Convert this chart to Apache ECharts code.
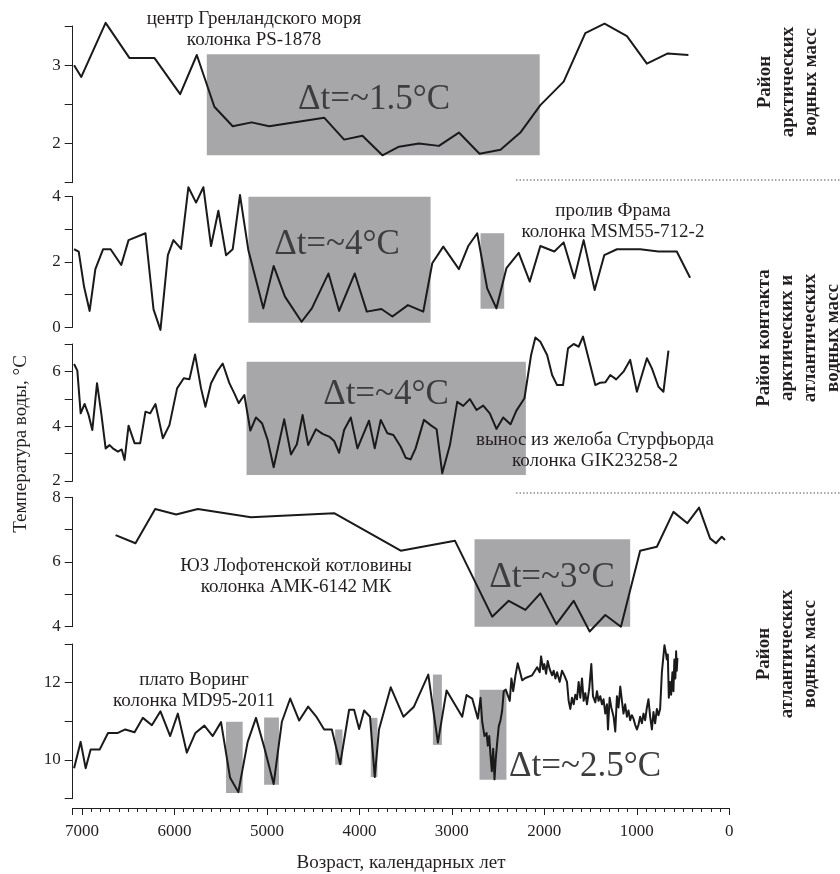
<!DOCTYPE html>
<html><head><meta charset="utf-8">
<script src="https://cdn.jsdelivr.net/npm/echarts@6/dist/echarts.min.js"></script>
<style>html,body{margin:0;padding:0;background:#fff}#c{width:840px;height:874px}</style>
</head><body><div id="c"></div>
<script>
// ---------- DATA ----------
// PS-1878 (центр Гренландского моря)
const ps1878Age  = [7085,7007,6744,6485,6215,5938,5758,5568,5370,5165,4975,4381,4165,3967,3751,3572,3356,3140,2924,2701,2474,2259,2043,1791,1557,1349,1107,891,665,442];
const ps1878Temp = [3.0,2.85,3.54,3.09,3.09,2.63,3.13,2.47,2.22,2.27,2.22,2.33,2.05,2.10,1.85,1.96,2.0,1.97,2.14,1.87,1.92,2.14,2.49,2.79,3.41,3.53,3.37,3.02,3.15,3.13];
const ps1878Boxes = [[5650,2050,1.85,3.14]]; // [ageFrom, ageTo, tMin, tMax]

// MSM55-712-2 (пролив Фрама)
const msmAge  = [7085,7035,6977,6917,6855,6772,6690,6575,6496,6313,6226,6151,6071,6011,5928,5849,5766,5687,5604,5525,5442,5370,5291,5201,5039,4927,4805,4625,4514,4334,4219,4050,3920,3762,3643,3475,3309,3212,3093,2924,2823,2726,2618,2518,2410,2277,2158,2043,1892,1791,1676,1575,1456,1352,1215,964,766,568,424];
const msmTemp = [2.39,2.32,1.24,0.5,1.78,2.39,2.39,1.91,2.67,2.88,0.55,-0.08,2.21,2.67,2.40,4.29,3.82,4.29,2.49,3.57,2.21,2.39,4.05,2.37,0.58,1.88,0.94,0.17,0.58,1.65,0.5,1.65,0.48,0.56,0.33,0.68,0.48,1.96,2.47,1.78,2.49,2.88,1.19,0.58,1.81,2.28,1.40,2.49,2.32,2.60,1.50,2.67,1.14,2.21,2.39,2.39,2.32,2.32,1.52];
const msmBoxes = [[5200,3230,0.14,4.08],[2690,2434,0.57,2.88]];

// GIK23258-2 (вынос из желоба Стурфьорда)
const gikAge  = [7085,7050,7014,6971,6928,6888,6837,6791,6744,6701,6658,6611,6570,6539,6496,6431,6370,6313,6262,6205,6125,6054,5971,5899,5838,5777,5712,5665,5604,5539,5478,5406,5352,5305,5244,5179,5118,5053,4992,4927,4813,4740,4676,4614,4554,4470,4398,4327,4273,4219,4165,4093,4021,3896,3834,3769,3697,3632,3553,3500,3446,3392,3302,3230,3165,3104,3021,2942,2877,2806,2733,2661,2590,2518,2445,2366,2302,2215,2143,2097,2043,1970,1916,1862,1798,1744,1683,1629,1582,1449,1395,1341,1287,1223,1144,1072,999,891,837,766,712,658];
const gikTemp = [6.27,6.03,4.47,4.81,4.41,3.86,5.57,4.47,3.19,3.31,3.17,3.07,3.15,2.77,4.02,3.38,3.38,4.53,4.47,4.81,3.56,4.04,5.38,5.75,5.71,6.62,5.38,4.71,5.57,5.99,6.29,5.57,5.20,4.84,5.14,3.84,4.32,4.11,3.50,2.50,4.25,2.97,3.34,4.41,3.31,3.89,3.72,3.62,3.46,3.03,3.86,4.32,3.19,4.20,3.19,4.23,3.74,3.68,3.25,2.85,2.79,3.19,4.23,4.04,3.89,2.28,3.31,4.89,4.74,4.99,4.59,4.75,4.47,3.90,4.32,4.07,4.57,5.02,6.60,7.24,7.08,6.60,5.87,5.50,5.50,6.84,7.0,6.90,7.27,5.50,5.59,5.60,5.87,5.71,5.99,6.42,5.26,6.48,6.11,5.44,5.26,6.76];
const gikBoxes = [[5220,2200,2.22,6.35]];

// АМК-6142 МК (ЮЗ Лофотенской котловины)
const amkAge  = [6636,6421,6208,5981,5747,5172,4273,3553,2967,2564,2385,2205,2043,1870,1683,1510,1341,1172,964,783,604,453,327,208,144,82,46];
const amkTemp = [6.83,6.58,7.64,7.47,7.64,7.38,7.51,6.35,6.66,4.31,4.80,4.52,5.03,4.08,4.80,3.85,4.36,4.00,6.35,6.47,7.55,7.20,7.68,6.73,6.58,6.78,6.68];
const amkBoxes = [[2755,1072,3.81,6.70]];

// MD95-2011 (плато Воринг)
const mdAge  = [7085,7014,6960,6906,6809,6718,6611,6532,6431,6341,6244,6151,6046,5963,5866,5773,5676,5586,5496,5399,5309,5208,5118,5029,4927,4838,4748,4651,4554,4460,4381,4298,4208,4111,4057,4003,3949,3885,3834,3788,3661,3524,3410,3255,3151,3057,2888,2841,2780,2719,
  2690,2672,2647,2625,2611,2596,2582,2568,2553,2539,2525,2510,2493,2474,2456,2439,2417,2396,2374,2356,2337,2312,2288,2266,2240,2205,2132,2078,2050,2035,2014,2000,1981,1964,1942,1916,1899,1880,1862,1834,1809,1784,1755,1737,1719,1701,1683,1665,1647,1629,1611,1593,1575,1557,1539,1514,1492,1474,1449,1431,1414,1395,1377,1360,1341,1323,1312,1294,1276,1251,1233,1215,1198,1179,1161,1144,1126,1107,1090,1072,1054,1036,1018,999,982,964,945,928,910,891,874,856,837,820,802,783,766,748,729,712,701,686,676,665,654,640,629,615,604,594,583,575,568,561];
const mdTemp = [9.79,10.47,9.79,10.27,10.27,10.70,10.70,10.79,10.72,11.09,10.90,11.26,10.62,11.20,10.19,10.70,10.89,10.62,10.98,9.55,9.17,10.47,11.09,10.33,9.38,10.99,11.59,11.02,11.38,11.10,10.79,10.79,9.89,11.30,11.30,10.80,11.28,11.12,9.56,10.79,11.88,11.12,11.38,12.21,10.45,11.80,11.12,11.68,11.59,11.07,
  11.61,10.99,10.62,10.70,10.37,10.62,10.12,9.71,10.29,9.50,10.04,10.45,10.87,11.03,11.28,11.78,11.82,11.82,11.53,12.11,11.78,12.19,12.50,12.31,12.06,12.12,12.19,12.40,12.27,12.68,12.35,12.48,12.23,12.56,12.35,12.19,12.31,12.11,12.27,12.02,12.31,12.19,12.02,11.53,11.32,11.61,11.44,11.69,11.57,12.02,11.61,12.11,11.53,11.73,11.44,11.86,12.48,11.65,11.49,11.78,11.53,11.65,11.44,11.57,11.20,11.44,10.79,11.61,11.36,11.12,10.74,11.65,11.36,11.90,11.53,11.20,11.44,11.12,11.28,11.03,11.16,11.07,10.91,10.79,10.91,11.12,10.95,11.20,11.03,11.36,11.57,11.12,10.79,11.24,10.95,11.32,11.16,11.32,12.27,12.31,12.97,12.77,12.60,12.73,11.61,12.02,11.69,12.27,11.78,12.60,12.11,12.81,12.31,12.64];
const mdBoxes = [[5442,5262,9.15,10.99],[5030,4870,9.36,11.10],[4262,4183,9.88,10.79],[3877,3805,9.56,11.09],[3205,3108,10.39,12.21],[2701,2410,9.49,11.82]];

// Axis ranges and ticks
const yRanges = [[1.5,3.5,0.5,1],[0,4,1,2],[2,7,1,2],[4,8,1,2],[9,13,1,2]]; // min,max,interval,labelEvery
const ageMin = 0, ageMax = 7100, ageInterval = 1000;

// Texts
const siteLabels = ['центр Гренландского моря\nколонка PS-1878','пролив Фрама\nколонка MSM55-712-2','вынос из желоба Стурфьорда\nколонка GIK23258-2','ЮЗ Лофотенской котловины\nколонка АМК-6142 МК','плато Воринг\nколонка MD95-2011'];
const deltaLabels = ['Δt=~1.5°C','Δt=~4°C','Δt=~4°C','Δt=~3°C','Δt=~2.5°C'];
const regionLabels = ['Район\nарктических\nводных масс','Район контакта\nарктических и\nатлантических\nводных масс','Район\nатлантических\nводных масс'];
const yName = 'Температура воды, °C';
const xName = 'Возраст, календарных лет';

// ---------- CHART ----------
const FONT = '"Liberation Serif", "Times New Roman", serif';
const INK = '#231f20';
const BOX = '#a7a7aa';
const panelAges = [ps1878Age, msmAge, gikAge, amkAge, mdAge];
const panelTemps = [ps1878Temp, msmTemp, gikTemp, amkTemp, mdTemp];
const panelBoxes = [ps1878Boxes, msmBoxes, gikBoxes, amkBoxes, mdBoxes];
const gridPx = [[26,182.7],[196.7,327.3],[344,481],[497.3,626.7],[644,806.7]];
const L = 72.7, R = 729.3;

const grids = [], xAxes = [], yAxes = [], series = [];
gridPx.forEach((g, i) => {
  grids.push({left: L, width: R - L, top: g[0], height: g[1] - g[0]});
  const last = i === gridPx.length - 1;
  xAxes.push({
    gridIndex: i, type: 'value', min: ageMin, max: ageMax, interval: ageInterval, inverse: true,
    show: last, offset: 9.3, position: 'bottom',
    axisLine: {show: true, onZero: false, lineStyle: {color: INK, width: 1}},
    axisTick: {show: true, length: 7, lineStyle: {color: INK, width: 1}},
    minorTick: {show: true, splitNumber: 10, length: 4, lineStyle: {color: INK, width: 1}},
    splitLine: {show: false},
    axisLabel: {show: true, margin: 15, color: INK, fontFamily: FONT, fontSize: 17,
      formatter: v => (v % 1000 === 0 ? String(v) : '')},
    name: last ? xName : '', nameLocation: 'middle', nameGap: 46,
    nameTextStyle: {color: INK, fontFamily: FONT, fontSize: 19}
  });
  const yr = yRanges[i];
  yAxes.push({
    gridIndex: i, type: 'value', min: yr[0], max: yr[1], interval: yr[2], position: 'left',
    axisLine: {show: true, onZero: false, lineStyle: {color: INK, width: 1}},
    axisTick: {show: true, length: 8, lineStyle: {color: INK, width: 1}},
    splitLine: {show: false},
    axisLabel: {margin: 12, color: INK, fontFamily: FONT, fontSize: 17, showMinLabel: true, showMaxLabel: true,
      formatter: v => { const q = v / yr[3]; return Math.abs(q - Math.round(q)) < 1e-6 ? String(v) : ''; }}
  });
  series.push({
    type: 'scatter', xAxisIndex: i, yAxisIndex: i, symbolSize: 0, silent: true, z: 1,
    data: panelBoxes[i].map(b => [b[0], b[2]]),
    markArea: {silent: true, itemStyle: {color: BOX, opacity: 1}, label: {show: false},
      data: panelBoxes[i].map(b => [{xAxis: b[0], yAxis: b[3]}, {xAxis: b[1], yAxis: b[2]}])}
  });
  series.push({
    type: 'line', xAxisIndex: i, yAxisIndex: i, symbol: 'none', showSymbol: false, clip: false, z: 3,
    lineStyle: {color: '#1a1a1a', width: 2, join: 'round'},
    data: panelAges[i].map((a, k) => [a, panelTemps[i][k]])
  });
});

const graphics = [];
const sitePos = [[254,30],[613,222],[595,451],[296,577],[194,691]];
siteLabels.forEach((t, i) => graphics.push({type: 'text', z: 100, x: sitePos[i][0], y: sitePos[i][1],
  style: {text: t, fill: INK, font: '19px ' + FONT, align: 'center', verticalAlign: 'middle', textAlign: 'center', textVerticalAlign: 'middle', lineHeight: 21}}));
const deltaPos = [[374,100],[337,245],[386,395],[552,578],[585,767]];
deltaLabels.forEach((t, i) => graphics.push({type: 'text', z: 100, x: deltaPos[i][0], y: deltaPos[i][1],
  style: {text: t, fill: '#3d3d3f', font: '35px ' + FONT, align: 'center', verticalAlign: 'middle', textAlign: 'center', textVerticalAlign: 'middle'}}));
const regionPos = [[788,82],[799,338],[787,654]];
regionLabels.forEach((t, i) => graphics.push({type: 'text', z: 100, x: regionPos[i][0], y: regionPos[i][1], rotation: Math.PI / 2,
  style: {text: t, fill: INK, font: 'bold 19px ' + FONT, align: 'center', verticalAlign: 'middle', textAlign: 'center', textVerticalAlign: 'middle', lineHeight: 23}}));
graphics.push({type: 'text', z: 100, x: 21, y: 444, rotation: Math.PI / 2,
  style: {text: yName, fill: INK, font: '19px ' + FONT, align: 'center', verticalAlign: 'middle', textAlign: 'center', textVerticalAlign: 'middle'}});
[180, 493].forEach(y => graphics.push({type: 'line', z: 100, shape: {x1: 516, y1: y, x2: 840, y2: y},
  style: {stroke: '#555', lineWidth: 1, lineDash: [1.5, 2]}}));

const chart = echarts.init(document.getElementById('c'), null, {renderer: 'canvas'});
chart.setOption({
  animation: false, backgroundColor: '#fff',
  grid: grids, xAxis: xAxes, yAxis: yAxes, series: series, graphic: graphics
});
</script></body></html>
